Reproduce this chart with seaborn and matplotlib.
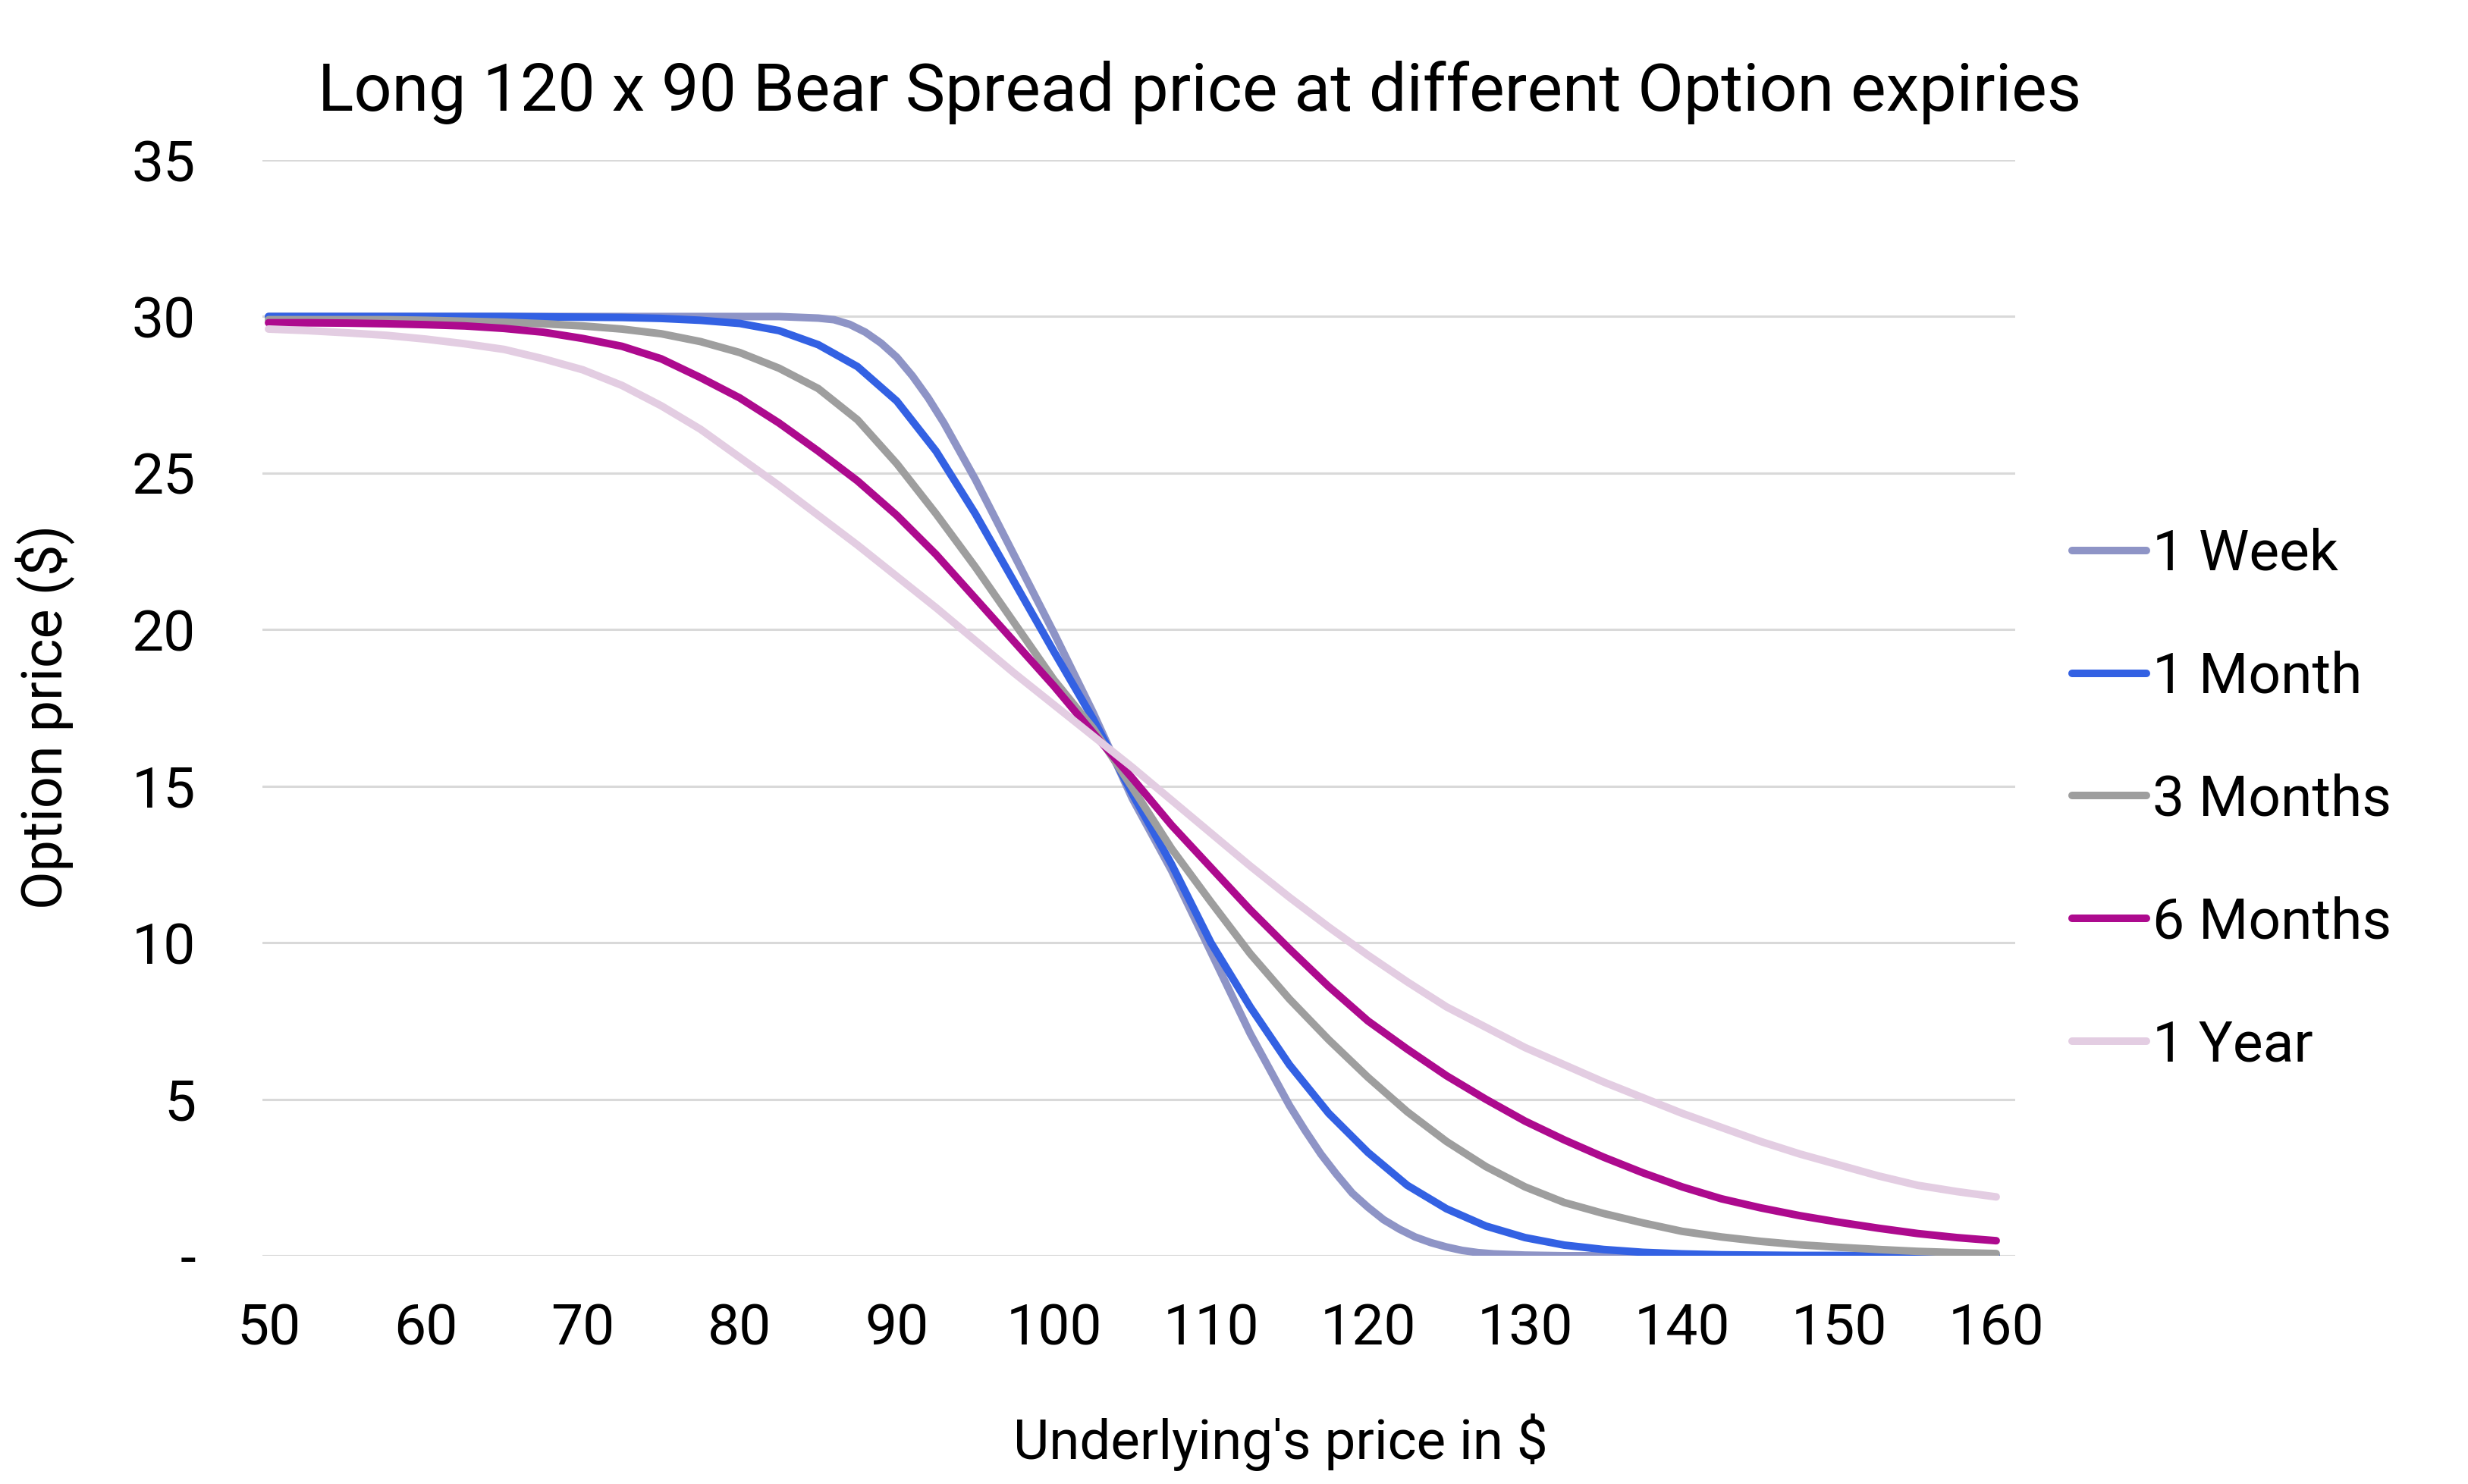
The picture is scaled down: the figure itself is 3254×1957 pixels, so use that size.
import numpy as np
import pandas as pd
import matplotlib
matplotlib.use("Agg")
import matplotlib.pyplot as plt
from matplotlib.lines import Line2D
import seaborn as sns

# ---------------------------------------------------------------------------
# Data
# ---------------------------------------------------------------------------

UNDERLYING = [50, 52.5, 55, 57.5, 60, 62.5, 65, 67.5, 70, 72.5, 75, 77.5, 80,
              82.5, 85, 87.5, 90, 92.5, 95, 97.5, 100, 102.5, 105, 107.5, 110,
              112.5, 115, 117.5, 120, 122.5, 125, 127.5, 130, 132.5, 135,
              137.5, 140, 142.5, 145, 147.5, 150, 152.5, 155, 157.5, 160]

# the 1 week curve bends sharply, so it was read at a finer step
WEEK_1_X = [50, 55, 60, 65, 70, 75, 80, 82.5, 85, 86, 87, 88, 89, 90, 91, 92,
            93, 94, 95, 97.5, 100, 102.5, 105, 107.5, 110, 112.5, 115, 116,
            117, 118, 119, 120, 121, 122, 123, 124, 125, 126, 127, 128, 130,
            132.5, 135, 140, 145, 150, 155, 160]

WEEK_1 = [30.0, 30.0, 30.0, 30.0, 30.0, 30.0, 30.0, 30.0, 29.95, 29.9, 29.75,
          29.5, 29.15, 28.7, 28.1, 27.4, 26.6, 25.7, 24.8, 22.35, 19.9, 17.35,
          14.6, 12.3, 9.7, 7.1, 4.8, 4.0, 3.25, 2.6, 2.0, 1.55, 1.15, 0.85,
          0.6, 0.42, 0.28, 0.17, 0.1, 0.06, 0.02, 0.0, 0.0, 0.0, 0.0, 0.0,
          0.0, 0.0]

MONTH_1 = [30.0, 30.0, 30.0, 30.0, 30.0, 30.0, 30.0, 29.99, 29.98, 29.97,
           29.94, 29.88, 29.78, 29.55, 29.1, 28.4, 27.3, 25.7, 23.7, 21.5,
           19.3, 17.15, 14.75, 12.5, 10.0, 7.95, 6.1, 4.55, 3.3, 2.25, 1.5,
           0.95, 0.58, 0.34, 0.2, 0.11, 0.06, 0.03, 0.02, 0.01, 0.01, 0.0,
           0.0, 0.0, 0.0]

MONTHS_3 = [29.9, 29.9, 29.9, 29.9, 29.88, 29.85, 29.82, 29.77, 29.7, 29.6,
            29.45, 29.2, 28.85, 28.35, 27.7, 26.7, 25.3, 23.7, 22.0, 20.2,
            18.4, 16.85, 14.95, 13.0, 11.3, 9.65, 8.2, 6.9, 5.7, 4.6, 3.65,
            2.85, 2.2, 1.7, 1.35, 1.05, 0.78, 0.6, 0.46, 0.35, 0.27, 0.2,
            0.14, 0.1, 0.07]

MONTHS_6 = [29.8, 29.8, 29.79, 29.77, 29.74, 29.7, 29.62, 29.5, 29.3, 29.05,
            28.65, 28.05, 27.4, 26.6, 25.7, 24.75, 23.65, 22.4, 21.0, 19.6,
            18.2, 16.7, 15.25, 13.75, 12.4, 11.05, 9.8, 8.6, 7.5, 6.6, 5.75,
            5.0, 4.3, 3.7, 3.15, 2.65, 2.2, 1.82, 1.53, 1.28, 1.07, 0.88,
            0.71, 0.58, 0.48]

YEAR_1 = [29.6, 29.55, 29.48, 29.4, 29.28, 29.13, 28.95, 28.65, 28.3, 27.8,
          27.15, 26.4, 25.5, 24.6, 23.65, 22.7, 21.7, 20.7, 19.65, 18.6,
          17.6, 16.6, 15.6, 14.55, 13.5, 12.45, 11.45, 10.5, 9.6, 8.75,
          7.95, 7.3, 6.65, 6.1, 5.55, 5.05, 4.55, 4.1, 3.65, 3.25, 2.9, 2.55,
          2.25, 2.05, 1.88]

SERIES_NAMES = ["1 Week", "1 Month", "3 Months", "6 Months", "1 Year"]
SERIES_COLORS = ["#8E94C6", "#3361E3", "#9E9E9E", "#AD0A8E", "#E3CDE2"]

X_TICKS = [50, 60, 70, 80, 90, 100, 110, 120, 130, 140, 150, 160]
Y_TICKS = [0, 5, 10, 15, 20, 25, 30, 35]
Y_TICK_LABELS = ["-", "5", "10", "15", "20", "25", "30", "35"]

TITLE = "Long 120 x 90 Bear Spread price at different Option expiries"
X_LABEL = "Underlying's price in $"
Y_LABEL = "Option price ($)"

# ---------------------------------------------------------------------------
# Style
# ---------------------------------------------------------------------------

sns.set_theme(style="white")
plt.rcParams["font.family"] = ["Roboto", "DejaVu Sans"]
plt.rcParams["text.color"] = "black"

W, H = 3254, 1957
DPI = 200
LW = 3.6

series_x = [WEEK_1_X, UNDERLYING, UNDERLYING, UNDERLYING, UNDERLYING]
series_y = [WEEK_1, MONTH_1, MONTHS_3, MONTHS_6, YEAR_1]

frames = []
for name, xs, ys in zip(SERIES_NAMES, series_x, series_y):
    frames.append(pd.DataFrame({"underlying": xs, "price": ys,
                                "expiry": name}))
df = pd.concat(frames, ignore_index=True)

fig = plt.figure(figsize=(W / DPI, H / DPI), dpi=DPI)
ax = fig.add_axes([346 / W, 1 - 1656 / H, (2657 - 346) / W, (1656 - 211) / H])

# light horizontal gridlines under the curves
for yt in Y_TICKS:
    ax.axhline(yt, color="#D9D9D9", linewidth=1.1, zorder=0)

sns.lineplot(data=df, x="underlying", y="price", hue="expiry",
             hue_order=SERIES_NAMES,
             palette=dict(zip(SERIES_NAMES, SERIES_COLORS)),
             linewidth=LW, solid_capstyle="round", legend=False,
             estimator=None, sort=False, ax=ax)

ax.set_xlim(49.61, 161.21)
ax.set_ylim(0, 35)
ax.set_xticks(X_TICKS)
ax.set_xticklabels([str(t) for t in X_TICKS])
ax.set_yticks(Y_TICKS)
ax.set_yticklabels(Y_TICK_LABELS)
ax.tick_params(axis="x", length=0, pad=22, labelsize=27, labelcolor="black")
ax.tick_params(axis="y", length=0, pad=31.6, labelsize=27, labelcolor="black")
ax.set_xlabel("")
ax.set_ylabel("")
ax.grid(False)
for sp in ax.spines.values():
    sp.set_visible(False)

fig.text(1582 / W, 1 - 146 / H, TITLE, ha="center", va="baseline",
         fontsize=31.7, color="black")
fig.text(1688 / W, 1 - 1924 / H, X_LABEL, ha="center", va="baseline",
         fontsize=26.2, color="black")
fig.text(60 / W, 1 - 945 / H, Y_LABEL, ha="center", va="center",
         rotation=90, fontsize=26.5, color="black")

handles = [Line2D([0], [0], color=c, linewidth=LW, solid_capstyle="round")
           for c in SERIES_COLORS]
fig.legend(handles, SERIES_NAMES, loc="center left",
           bbox_to_anchor=(2732 / W, 1 - 1055 / H), frameon=False,
           fontsize=27, handlelength=1.3, handletextpad=0.12,
           labelspacing=1.21, borderpad=0, borderaxespad=0)

fig.savefig("out.png", dpi=DPI, facecolor="white")
